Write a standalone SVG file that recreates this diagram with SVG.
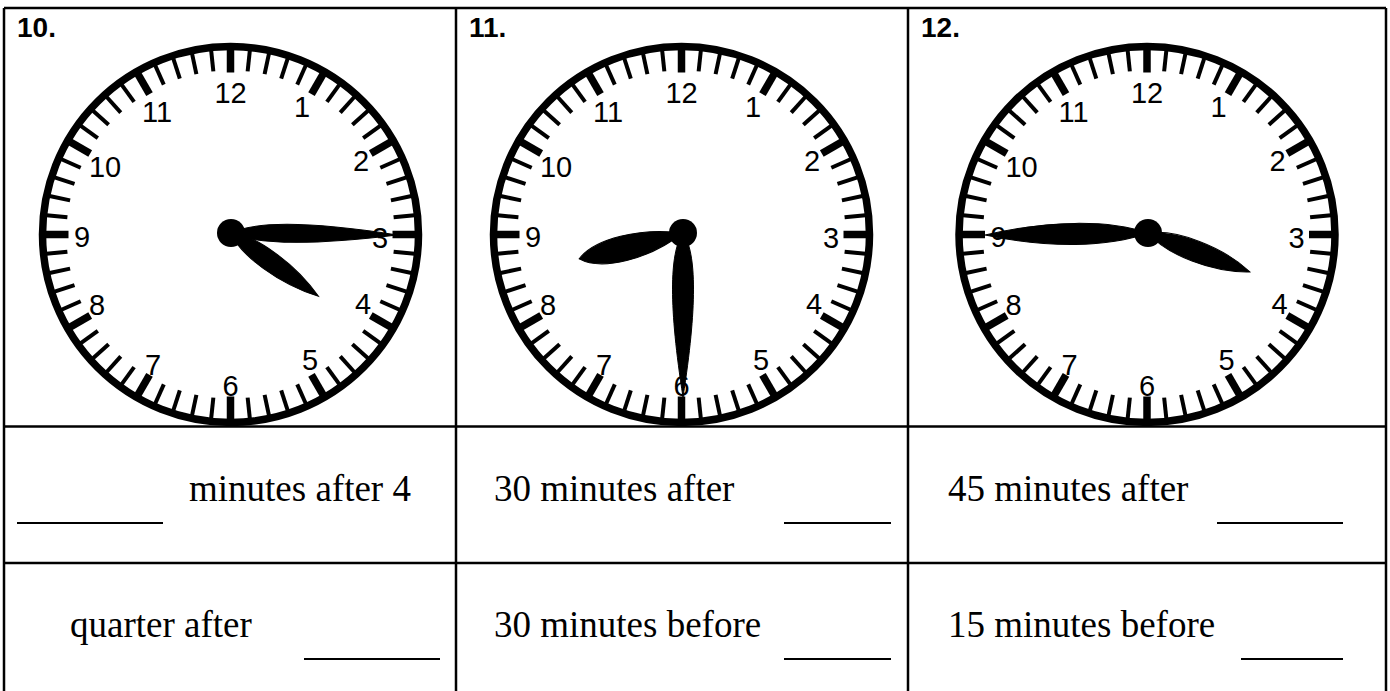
<svg xmlns="http://www.w3.org/2000/svg" xmlns:xlink="http://www.w3.org/1999/xlink" width="1390" height="691" viewBox="0 0 1390 691">
<style>
.grid{stroke:#000;stroke-width:2.5;fill:none}
.blank{stroke:#000;stroke-width:2}
.ring{fill:#fff;stroke:#000;stroke-width:7.5}
.num{font-family:"Liberation Sans",Arial,sans-serif;font-size:29px;fill:#000;text-anchor:middle}
.lbl{font-family:"Liberation Sans",Arial,sans-serif;font-size:28px;font-weight:bold;fill:#000}
.ans{font-family:"Liberation Serif","Times New Roman",serif;font-size:37px;fill:#000}
.hand{fill:#000;stroke:#000;stroke-width:1}
</style>
<defs>
<line id="mn" x1="0" y1="-185" x2="0" y2="-164" stroke="#000" stroke-width="4"/>
<line id="mj" x1="0" y1="-186" x2="0" y2="-162" stroke="#000" stroke-width="7.5"/>
<g id="ticks">
<use xlink:href="#mj" transform="rotate(0)"/><use xlink:href="#mn" transform="rotate(6)"/><use xlink:href="#mn" transform="rotate(12)"/><use xlink:href="#mn" transform="rotate(18)"/><use xlink:href="#mn" transform="rotate(24)"/>
<use xlink:href="#mj" transform="rotate(30)"/><use xlink:href="#mn" transform="rotate(36)"/><use xlink:href="#mn" transform="rotate(42)"/><use xlink:href="#mn" transform="rotate(48)"/><use xlink:href="#mn" transform="rotate(54)"/>
<use xlink:href="#mj" transform="rotate(60)"/><use xlink:href="#mn" transform="rotate(66)"/><use xlink:href="#mn" transform="rotate(72)"/><use xlink:href="#mn" transform="rotate(78)"/><use xlink:href="#mn" transform="rotate(84)"/>
<use xlink:href="#mj" transform="rotate(90)"/><use xlink:href="#mn" transform="rotate(96)"/><use xlink:href="#mn" transform="rotate(102)"/><use xlink:href="#mn" transform="rotate(108)"/><use xlink:href="#mn" transform="rotate(114)"/>
<use xlink:href="#mj" transform="rotate(120)"/><use xlink:href="#mn" transform="rotate(126)"/><use xlink:href="#mn" transform="rotate(132)"/><use xlink:href="#mn" transform="rotate(138)"/><use xlink:href="#mn" transform="rotate(144)"/>
<use xlink:href="#mj" transform="rotate(150)"/><use xlink:href="#mn" transform="rotate(156)"/><use xlink:href="#mn" transform="rotate(162)"/><use xlink:href="#mn" transform="rotate(168)"/><use xlink:href="#mn" transform="rotate(174)"/>
<use xlink:href="#mj" transform="rotate(180)"/><use xlink:href="#mn" transform="rotate(186)"/><use xlink:href="#mn" transform="rotate(192)"/><use xlink:href="#mn" transform="rotate(198)"/><use xlink:href="#mn" transform="rotate(204)"/>
<use xlink:href="#mj" transform="rotate(210)"/><use xlink:href="#mn" transform="rotate(216)"/><use xlink:href="#mn" transform="rotate(222)"/><use xlink:href="#mn" transform="rotate(228)"/><use xlink:href="#mn" transform="rotate(234)"/>
<use xlink:href="#mj" transform="rotate(240)"/><use xlink:href="#mn" transform="rotate(246)"/><use xlink:href="#mn" transform="rotate(252)"/><use xlink:href="#mn" transform="rotate(258)"/><use xlink:href="#mn" transform="rotate(264)"/>
<use xlink:href="#mj" transform="rotate(270)"/><use xlink:href="#mn" transform="rotate(276)"/><use xlink:href="#mn" transform="rotate(282)"/><use xlink:href="#mn" transform="rotate(288)"/><use xlink:href="#mn" transform="rotate(294)"/>
<use xlink:href="#mj" transform="rotate(300)"/><use xlink:href="#mn" transform="rotate(306)"/><use xlink:href="#mn" transform="rotate(312)"/><use xlink:href="#mn" transform="rotate(318)"/><use xlink:href="#mn" transform="rotate(324)"/>
<use xlink:href="#mj" transform="rotate(330)"/><use xlink:href="#mn" transform="rotate(336)"/><use xlink:href="#mn" transform="rotate(342)"/><use xlink:href="#mn" transform="rotate(348)"/><use xlink:href="#mn" transform="rotate(354)"/>
</g>
</defs>
<rect width="1390" height="691" fill="#fff"/>

<g id="connectors" class="grid">
<line x1="4" y1="8" x2="1386" y2="8"/>
<line x1="4" y1="426.5" x2="1386" y2="426.5"/>
<line x1="4" y1="563" x2="1386" y2="563"/>
<line x1="4" y1="8" x2="4" y2="691"/>
<line x1="456" y1="8" x2="456" y2="691"/>
<line x1="908" y1="8" x2="908" y2="691"/>
<line x1="1386" y1="8" x2="1386" y2="691"/>
</g>

<g id="clock10">
<text class="lbl" x="17" y="37">10.</text>
<g transform="translate(230.5,234.5)">
<circle class="ring" r="188"/>
<use xlink:href="#ticks"/>
<g class="num">
<text x="0" y="-131.5">12</text><text x="71.5" y="-117.5">1</text><text x="130.5" y="-63.5">2</text><text x="149.5" y="13.5">3</text>
<text x="132.5" y="79.5">4</text><text x="79.5" y="135.5">5</text><text x="0" y="161.5">6</text><text x="-77.5" y="140.5">7</text>
<text x="-133.5" y="80.5">8</text><text x="-148.5" y="12.5">9</text><text x="-125.5" y="-57.5">10</text><text x="-73.5" y="-112.5">11</text>
</g>
</g>
<g transform="translate(231,233)">
<path class="hand" transform="rotate(0.7)" d="M0,0 C25,-12.5 80,-12.5 166,0 C80,11.5 25,11.5 0,0 Z"/>
<line x1="160" y1="2" x2="166" y2="2" stroke="#000" stroke-width="1"/>
<path class="hand" transform="rotate(35.9)" d="M0,0 C20,-13 70,-13 108,0 C70,13 20,13 0,0 Z"/>
<circle r="14" fill="#000"/>
</g>
</g>

<g id="clock11">
<text class="lbl" x="469" y="37">11.</text>
<g transform="translate(681.5,234.5)">
<circle class="ring" r="188"/>
<use xlink:href="#ticks"/>
<g class="num">
<text x="0" y="-131.5">12</text><text x="71.5" y="-117.5">1</text><text x="130.5" y="-63.5">2</text><text x="149.5" y="13.5">3</text>
<text x="132.5" y="79.5">4</text><text x="79.5" y="135.5">5</text><text x="0" y="161.5">6</text><text x="-77.5" y="140.5">7</text>
<text x="-133.5" y="80.5">8</text><text x="-148.5" y="12.5">9</text><text x="-125.5" y="-57.5">10</text><text x="-73.5" y="-112.5">11</text>
</g>
</g>
<g transform="translate(683,233)">
<path class="hand" transform="rotate(90)" d="M0,0 C20,-14 75,-14 164,0 C75,14 20,14 0,0 Z"/>
<path class="hand" transform="rotate(166)" d="M0,0 C40,-17.5 88,-17.5 107,0 C88,16 40,16 0,0 Z"/>
<circle r="14" fill="#000"/>
</g>
</g>

<g id="clock12">
<text class="lbl" x="921" y="37">12.</text>
<g transform="translate(1147,234.5)">
<circle class="ring" r="188"/>
<use xlink:href="#ticks"/>
<g class="num">
<text x="0" y="-131.5">12</text><text x="71.5" y="-117.5">1</text><text x="130.5" y="-63.5">2</text><text x="149.5" y="13.5">3</text>
<text x="132.5" y="79.5">4</text><text x="79.5" y="135.5">5</text><text x="0" y="161.5">6</text><text x="-77.5" y="140.5">7</text>
<text x="-133.5" y="80.5">8</text><text x="-148.5" y="12.5">9</text><text x="-125.5" y="-57.5">10</text><text x="-73.5" y="-112.5">11</text>
</g>
</g>
<g transform="translate(1148,233)">
<path class="hand" transform="rotate(179.3)" d="M0,0 C40,-14 100,-14 163,0 C100,14 40,14 0,0 Z"/>
<path class="hand" transform="rotate(20.9)" d="M0,0 C25,-14 75,-14 109,0 C75,14 25,14 0,0 Z"/>
<circle r="14" fill="#000"/>
</g>
</g>

<g id="cell-r2c1">
<text class="ans" x="189" y="500.5">minutes after 4</text>
<line class="blank" x1="17" y1="523" x2="163" y2="523"/>
</g>
<g id="cell-r2c2">
<text class="ans" x="494" y="500.5">30 minutes after</text>
<line class="blank" x1="784" y1="523" x2="891" y2="523"/>
</g>
<g id="cell-r2c3">
<text class="ans" x="948" y="500.5">45 minutes after</text>
<line class="blank" x1="1217" y1="523" x2="1343" y2="523"/>
</g>
<g id="cell-r3c1">
<text class="ans" x="70" y="636.5">quarter after</text>
<line class="blank" x1="304" y1="659" x2="440" y2="659"/>
</g>
<g id="cell-r3c2">
<text class="ans" x="494" y="636.5">30 minutes before</text>
<line class="blank" x1="784" y1="659" x2="891" y2="659"/>
</g>
<g id="cell-r3c3">
<text class="ans" x="948" y="636.5">15 minutes before</text>
<line class="blank" x1="1241" y1="659" x2="1343" y2="659"/>
</g>
</svg>
